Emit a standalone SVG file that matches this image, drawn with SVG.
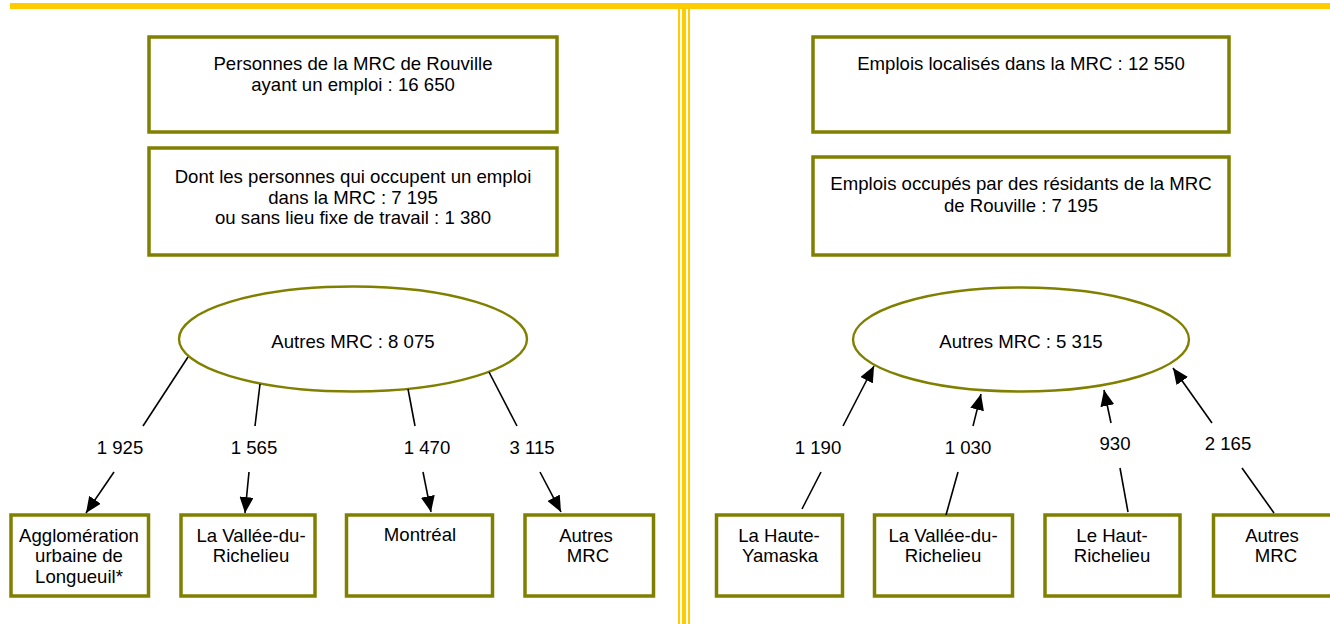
<svg xmlns="http://www.w3.org/2000/svg" width="1330" height="624" viewBox="0 0 1330 624">
<style>
  .box { fill: #ffffff; stroke: #808000; stroke-width: 3.5; }
  .ell { fill: #ffffff; stroke: #808000; stroke-width: 2.4; }
  .t { font-family: "Liberation Sans", Arial, sans-serif; font-size: 18.6px; fill: #000000; text-anchor: middle; }
  .c { stroke: #000000; stroke-width: 1.6; fill: none; }
  .band { fill: #ffcc00; }
</style>
<defs>
  <marker id="arr" markerUnits="userSpaceOnUse" markerWidth="16" markerHeight="14" refX="16" refY="7" orient="auto">
    <path d="M0,0 L16,7 L0,14 z" fill="#000000"/>
  </marker>
</defs>
<rect width="1330" height="624" fill="#ffffff"/>
<g id="frame">
  <rect class="band" x="10" y="3" width="1320" height="6"/>
  <rect class="band" x="678" y="6" width="2" height="618"/>
  <rect class="band" x="682" y="6" width="4" height="618"/>
  <rect class="band" x="688" y="6" width="2" height="618"/>
</g>
<g id="left-total">
  <rect class="box" x="149" y="37" width="408" height="95"/>
  <text class="t" x="353" y="70">Personnes de la MRC de Rouville</text>
  <text class="t" x="353" y="91">ayant un emploi : 16 650</text>
</g>
<g id="left-local">
  <rect class="box" x="149" y="148" width="408" height="107"/>
  <text class="t" x="353" y="183">Dont les personnes qui occupent un emploi</text>
  <text class="t" x="353" y="204">dans la MRC : 7 195</text>
  <text class="t" x="353" y="224">ou sans lieu fixe de travail : 1 380</text>
</g>
<g id="left-autres">
  <ellipse class="ell" cx="353" cy="339" rx="174" ry="52.5"/>
  <text class="t" x="353" y="348">Autres MRC : 8 075</text>
</g>
<g id="right-total">
  <rect class="box" x="813" y="37" width="416" height="95"/>
  <text class="t" x="1021" y="70">Emplois localisés dans la MRC : 12 550</text>
</g>
<g id="right-local">
  <rect class="box" x="813" y="157" width="416" height="98"/>
  <text class="t" x="1021" y="190">Emplois occupés par des résidants de la MRC</text>
  <text class="t" x="1021" y="212">de Rouville : 7 195</text>
</g>
<g id="right-autres">
  <ellipse class="ell" cx="1021" cy="339.5" rx="168" ry="52"/>
  <text class="t" x="1021" y="348">Autres MRC : 5 315</text>
</g>
<g id="dest-longueuil">
  <rect class="box" x="11" y="515" width="137.5" height="81"/>
  <text class="t" x="79" y="542">Agglomération</text>
  <text class="t" x="79" y="562">urbaine de</text>
  <text class="t" x="79" y="583">Longueuil*</text>
</g>
<g id="dest-vallee">
  <rect class="box" x="181" y="515" width="134" height="81"/>
  <text class="t" x="251" y="542">La Vallée-du-</text>
  <text class="t" x="251" y="562">Richelieu</text>
</g>
<g id="dest-montreal">
  <rect class="box" x="346.5" y="515" width="146" height="81"/>
  <text class="t" x="420" y="541">Montréal</text>
</g>
<g id="dest-autres">
  <rect class="box" x="525" y="515" width="128.5" height="81"/>
  <text class="t" x="586" y="542">Autres</text>
  <text class="t" x="588" y="562">MRC</text>
</g>
<g id="orig-yamaska">
  <rect class="box" x="716.5" y="515" width="126" height="81"/>
  <text class="t" x="779" y="542">La Haute-</text>
  <text class="t" x="780" y="562">Yamaska</text>
</g>
<g id="orig-vallee">
  <rect class="box" x="874.5" y="515" width="138" height="81"/>
  <text class="t" x="943" y="542">La Vallée-du-</text>
  <text class="t" x="943" y="562">Richelieu</text>
</g>
<g id="orig-hautrichelieu">
  <rect class="box" x="1045" y="515" width="135" height="81"/>
  <text class="t" x="1112" y="542">Le Haut-</text>
  <text class="t" x="1112" y="562">Richelieu</text>
</g>
<g id="orig-autres">
  <rect class="box" x="1213.5" y="515" width="130" height="81"/>
  <text class="t" x="1272" y="542">Autres</text>
  <text class="t" x="1276" y="562">MRC</text>
</g>
<g id="connectors">
  <line class="c" x1="188" y1="357" x2="143" y2="426"/>
  <line class="c" x1="114" y1="472" x2="86" y2="513" marker-end="url(#arr)"/>
  <line class="c" x1="260" y1="384" x2="255" y2="426"/>
  <line class="c" x1="249" y1="472" x2="245" y2="513" marker-end="url(#arr)"/>
  <line class="c" x1="408" y1="389" x2="415" y2="426"/>
  <line class="c" x1="423" y1="472" x2="431" y2="512" marker-end="url(#arr)"/>
  <line class="c" x1="489" y1="372" x2="517" y2="426"/>
  <line class="c" x1="540" y1="472" x2="561" y2="512" marker-end="url(#arr)"/>
  <line class="c" x1="802" y1="509" x2="821" y2="472"/>
  <line class="c" x1="843" y1="426" x2="874" y2="366" marker-end="url(#arr)"/>
  <line class="c" x1="946" y1="515" x2="958" y2="472"/>
  <line class="c" x1="973" y1="426" x2="981" y2="394" marker-end="url(#arr)"/>
  <line class="c" x1="1128" y1="512" x2="1120" y2="468"/>
  <line class="c" x1="1111" y1="423" x2="1104" y2="390" marker-end="url(#arr)"/>
  <line class="c" x1="1274" y1="513" x2="1242" y2="468"/>
  <line class="c" x1="1212" y1="423" x2="1173" y2="368" marker-end="url(#arr)"/>
  <text class="t" x="120" y="454">1 925</text>
  <text class="t" x="254" y="454">1 565</text>
  <text class="t" x="427" y="454">1 470</text>
  <text class="t" x="532" y="454">3 115</text>
  <text class="t" x="818" y="454">1 190</text>
  <text class="t" x="968" y="454">1 030</text>
  <text class="t" x="1115" y="450">930</text>
  <text class="t" x="1228" y="450">2 165</text>
</g>
</svg>
